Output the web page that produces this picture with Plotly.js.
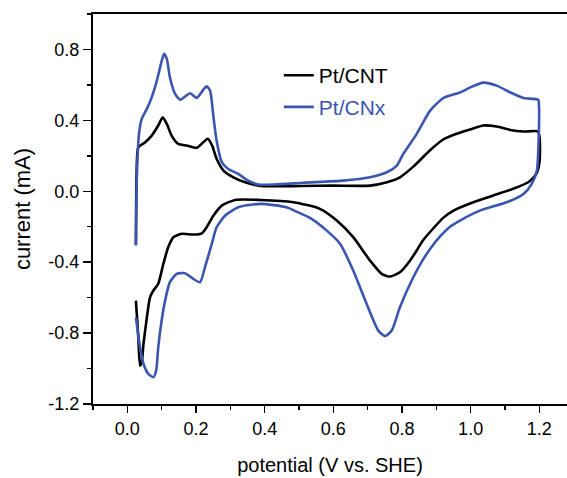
<!DOCTYPE html>
<html>
<head>
<meta charset="utf-8">
<script src="https://cdn.plot.ly/plotly-3.0.1.min.js"></script>
<style>html,body{margin:0;padding:0;background:#fff;}#chart{width:567px;height:478px;}</style>
</head>
<body>
<div id="chart"></div>
<script>
// Pt/CNT cyclic voltammogram (anodic then cathodic scan)
const cntPotential = [0.025,0.027,0.032,0.052,0.071,0.090,0.103,0.115,0.129,0.148,0.173,0.202,0.221,0.234,0.247,0.260,0.280,0.309,0.343,0.382,0.430,0.504,0.600,0.707,0.756,0.794,0.833,0.881,0.920,0.959,0.998,1.037,1.076,1.115,1.154,1.196,
  1.201,1.201,1.193,1.183,1.168,1.124,1.066,1.008,0.950,0.920,0.891,0.860,0.843,0.820,0.794,0.765,0.741,0.707,0.658,0.610,0.561,0.484,0.387,0.314,0.275,0.251,0.231,0.217,0.192,0.158,0.134,0.119,0.105,0.090,0.076,0.066,0.057,0.047,0.042,0.037,0.032,0.025];
const cntCurrent = [-0.30,0.10,0.248,0.276,0.314,0.371,0.417,0.380,0.314,0.267,0.258,0.245,0.276,0.296,0.258,0.183,0.117,0.079,0.051,0.032,0.028,0.030,0.032,0.032,0.051,0.079,0.139,0.230,0.292,0.324,0.348,0.371,0.365,0.346,0.337,0.337,
  0.300,0.173,0.105,0.077,0.051,0.014,-0.024,-0.062,-0.109,-0.150,-0.210,-0.280,-0.334,-0.400,-0.457,-0.481,-0.466,-0.391,-0.259,-0.165,-0.099,-0.062,-0.049,-0.049,-0.081,-0.137,-0.203,-0.237,-0.244,-0.240,-0.259,-0.316,-0.409,-0.522,-0.560,-0.598,-0.711,-0.861,-0.964,-0.983,-0.823,-0.617];

// Pt/CNx cyclic voltammogram
const cnxPotential = [0.025,0.028,0.034,0.042,0.057,0.071,0.086,0.098,0.107,0.115,0.124,0.139,0.154,0.168,0.183,0.202,0.221,0.231,0.241,0.251,0.260,0.275,0.294,0.323,0.352,0.382,0.430,0.513,0.629,0.707,0.756,0.785,0.804,0.843,0.882,0.920,0.969,0.998,1.037,1.076,1.115,1.154,1.197,
  1.199,1.198,1.193,1.178,1.154,1.105,1.027,0.969,0.940,0.911,0.882,0.860,0.833,0.794,0.770,0.751,0.731,0.697,0.658,0.620,0.581,0.532,0.493,0.464,0.387,0.323,0.285,0.260,0.246,0.226,0.212,0.192,0.168,0.144,0.124,0.110,0.100,0.090,0.084,0.076,0.061,0.047,0.037,0.025];
const cnxCurrent = [-0.306,0.10,0.324,0.408,0.465,0.530,0.624,0.719,0.775,0.747,0.643,0.549,0.516,0.534,0.553,0.527,0.572,0.592,0.568,0.417,0.286,0.164,0.126,0.098,0.060,0.038,0.038,0.048,0.060,0.079,0.107,0.145,0.211,0.324,0.455,0.526,0.557,0.585,0.613,0.596,0.558,0.526,0.516,
  0.483,0.286,0.117,0.042,-0.015,-0.062,-0.109,-0.165,-0.200,-0.255,-0.325,-0.390,-0.485,-0.654,-0.786,-0.817,-0.786,-0.635,-0.447,-0.297,-0.222,-0.150,-0.115,-0.090,-0.071,-0.090,-0.137,-0.203,-0.297,-0.429,-0.513,-0.494,-0.462,-0.466,-0.513,-0.617,-0.729,-0.880,-1.011,-1.049,-1.030,-0.973,-0.880,-0.711];

const seriesNames = ['Pt/CNT', 'Pt/CNx'];
const xTickVals = [0.0, 0.2, 0.4, 0.6, 0.8, 1.0, 1.2];
const xTickText = ['0.0', '0.2', '0.4', '0.6', '0.8', '1.0', '1.2'];
const yTickVals = [-1.2, -0.8, -0.4, 0.0, 0.4, 0.8];
const yTickText = ['-1.2', '-0.8', '-0.4', '0.0', '0.4', '0.8'];

const BLUE = '#3a56b0';
const FONT = 'Liberation Sans, Arial, sans-serif';

const traces = [
  {x: cntPotential, y: cntCurrent, mode: 'lines', name: seriesNames[0],
   line: {color: '#000000', width: 2.6, shape: 'spline', smoothing: 0.6}, legend: 'legend'},
  {x: cnxPotential, y: cnxCurrent, mode: 'lines', name: '<span style="color:' + BLUE + '">' + seriesNames[1] + '</span>',
   line: {color: BLUE, width: 2.6, shape: 'spline', smoothing: 0.6}, legend: 'legend2'}
];

const legendCommon = {x: 0.392, xanchor: 'left', yanchor: 'middle', bgcolor: 'rgba(0,0,0,0)',
  borderwidth: 0, font: {family: FONT, size: 21, color: '#000'}};

const layout = {
  width: 567, height: 478,
  margin: {l: 93, r: 0, t: 14, b: 74},
  paper_bgcolor: '#fff', plot_bgcolor: '#fff',
  font: {family: FONT, color: '#000'},
  showlegend: true,
  legend: Object.assign({}, legendCommon, {y: 0.842}),
  legend2: Object.assign({}, legendCommon, {y: 0.761}),
  xaxis: {
    range: [-0.1, 1.2807], showgrid: false, zeroline: false,
    showline: true, linecolor: '#000', linewidth: 2, mirror: true,
    ticks: 'outside', ticklen: 7, tickwidth: 1.5, tickcolor: '#000',
    tickvals: xTickVals, ticktext: xTickText,
    tickfont: {family: FONT, size: 18, color: '#000'},
    minor: {dtick: 0.1, tick0: 0, ticks: 'outside', ticklen: 4, tickwidth: 1.5, tickcolor: '#000', showgrid: false},
    title: {text: 'potential (V vs. SHE)', font: {family: FONT, size: 20, color: '#000'}, standoff: 20},
    automargin: false
  },
  yaxis: {
    range: [-1.2, 1.0], showgrid: false, zeroline: false,
    showline: true, linecolor: '#000', linewidth: 2, mirror: false,
    ticks: 'outside', ticklen: 8, tickwidth: 1.5, tickcolor: '#000',
    tickvals: yTickVals, ticktext: yTickText,
    tickfont: {family: FONT, size: 18, color: '#000'},
    minor: {dtick: 0.2, tick0: 0, ticks: 'outside', ticklen: 4, tickwidth: 1.5, tickcolor: '#000', showgrid: false},
    title: {text: 'current (mA)', font: {family: FONT, size: 22, color: '#000'}, standoff: 12},
    automargin: false
  }
};

Plotly.newPlot('chart', traces, layout, {displayModeBar: false, staticPlot: true});
</script>
</body>
</html>
